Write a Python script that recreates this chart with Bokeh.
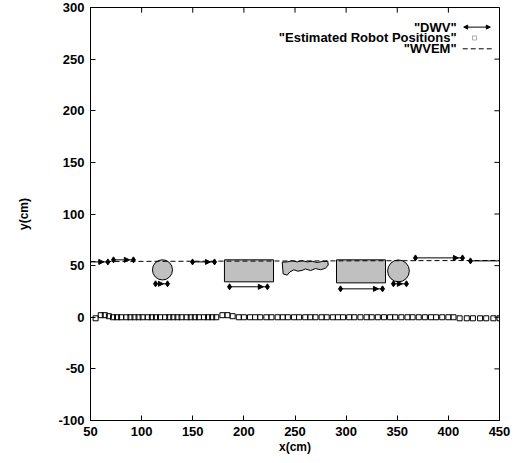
from bokeh.plotting import figure
from bokeh.models import (ColumnDataSource, Range1d, FixedTicker, Arrow,
                          NormalHead, Label, BoxAnnotation)
from bokeh.embed import file_html
from bokeh.resources import INLINE

# ---------------- data ----------------
x_ticks = [50, 100, 150, 200, 250, 300, 350, 400, 450]
y_ticks = [-100, -50, 0, 50, 100, 150, 200, 250, 300]

# DWV vectors (start / end)
dwv_x0 = [42.0, 72.5, 113.6, 149.8, 186.0, 294.5, 346.3, 367.8, 421.6]
dwv_y0 = [53.6, 55.6, 32.4, 53.6, 29.5, 27.5, 32.4, 57.5, 54.6]
dwv_x1 = [67.0, 92.0, 125.3, 171.3, 223.0, 335.6, 359.0, 413.8, 470.0]
dwv_y1 = [53.6, 55.6, 32.4, 53.6, 29.5, 27.5, 32.4, 57.5, 54.6]

# Estimated robot positions
robot_x = [55, 60, 64, 68, 72, 76, 80, 85, 89, 93, 97, 101, 106, 110, 114, 118, 123, 127,
           131, 135, 139, 144, 148, 152, 156, 161, 165, 169, 173,
           179, 184, 189, 195, 200, 206, 211, 216, 222, 227, 233, 238, 243, 249, 254, 260,
           265, 270, 276, 281, 287, 292, 297, 303, 308,
           314, 320, 325, 331, 337, 343, 348, 354, 360, 365, 371, 377, 383, 388, 394, 400, 405,
           411, 418, 424, 431, 437, 444, 450]
robot_y = [-1, 2, 2, 1, 0, 0, 0, 0, 0, 0, 0, 0, 0, 0, 0, 0, 0, 0,
           0, 0, 0, 0, 0, 0, 0, 0, 0, 0, 0,
           2, 2, 1, 0, 0, 0, 0, 0, 0, 0, 0, 0, 0, 0, 0, 0,
           0, 0, 0, 0, 0, 0, 0, 0, 0,
           0, 0, 0, 0, 0, 0, 0, 0, 0, 0, 0, 0, 0, 0, 0, 0, 0,
           -1, -1, -1, -1, -1, -1, -1]

# WVEM line
wvem_x = [50, 450]
wvem_y = [54.0, 55.0]

# Obstacles
circle_x = [120.4, 351.2]
circle_y = [45.9, 44.9]
circle_r = [9.8, 10.6]

rect_left = [181.0, 290.6]
rect_right = [229.0, 338.5]
rect_bottom = [34.3, 33.3]
rect_top = [55.6, 55.6]

blob_x = [237.5, 238.4, 242.4, 244.9, 248.9, 252.8, 257.0, 260.3, 265.2, 270.1, 274.9,
          279.8, 282.5, 282.1, 276.6, 271.7, 266.8, 261.9, 257.0, 252.1, 247.3, 242.4]
blob_y = [53.4, 42.0, 40.8, 43.8, 46.0, 44.6, 45.4, 46.8, 45.2, 47.2, 46.0,
          47.4, 50.6, 54.2, 54.0, 53.0, 54.2, 53.6, 54.8, 53.6, 54.8, 53.6]

# ---------------- figure ----------------
FONT = "Liberation Sans"
GRAY = "#c0c0c0"
X0, X1, Y0, Y1 = 50, 450, -100, 300

p = figure(width=519, height=460, x_range=Range1d(X0, X1), y_range=Range1d(Y0, Y1),
           output_backend="svg", toolbar_location=None,
           min_border_left=90, min_border_right=20, min_border_top=7, min_border_bottom=40)
p.grid.visible = False
p.outline_line_color = "black"
p.outline_line_width = 1
p.background_fill_color = "white"
p.border_fill_color = "white"

for ax, ticks in ((p.below[0], x_ticks), (p.left[0], y_ticks)):
    ax.ticker = FixedTicker(ticks=ticks)
    ax.major_label_overrides = {t: str(t) for t in ticks}
    ax.major_tick_in = 5
    ax.major_tick_out = 0
    ax.minor_tick_line_color = None
    ax.axis_line_color = "black"
    ax.major_tick_line_color = "black"
    ax.major_label_text_font = FONT
    ax.major_label_text_font_style = "bold"
    ax.major_label_text_color = "black"
    ax.major_label_text_font_size = "13px"
    ax.major_label_standoff = 6
    ax.axis_label_text_font = FONT
    ax.axis_label_text_font_style = "bold"
    ax.axis_label_text_font_size = "12px"
    ax.axis_label_text_color = "black"

p.below[0].axis_label = "x(cm)"
p.left[0].axis_label = "y(cm)"
p.below[0].axis_label_standoff = 1
p.left[0].axis_label_standoff = 24

# mirrored inward ticks on top and right borders (from the tick lists)
p.segment(x0=x_ticks, y0=[Y1] * len(x_ticks), x1=x_ticks, y1=[Y1 - 5] * len(x_ticks),
          line_color="black", line_width=1)
p.segment(x0=[X1] * len(y_ticks), y0=y_ticks, x1=[X1 - 5] * len(y_ticks), y1=y_ticks,
          line_color="black", line_width=1)

# obstacles
p.ellipse(x=circle_x, y=circle_y, width=[2 * r for r in circle_r],
          height=[2 * r for r in circle_r], fill_color=GRAY, line_color="black", line_width=1)
p.quad(left=rect_left, right=rect_right, bottom=rect_bottom, top=rect_top,
       fill_color=GRAY, line_color="black", line_width=1)
p.patch(blob_x, blob_y, fill_color=GRAY, line_color="black", line_width=1)

# WVEM dashed line
p.line(wvem_x, wvem_y, line_color="black", line_width=1, line_dash="5 3")

# DWV vectors
dwv = ColumnDataSource(dict(x0=dwv_x0, y0=dwv_y0, x1=dwv_x1, y1=dwv_y1))
p.segment(x0="x0", y0="y0", x1="x1", y1="y1", source=dwv, line_color="black", line_width=1)
p.scatter(x=dwv_x0 + dwv_x1, y=dwv_y0 + dwv_y1, marker="diamond", size=6,
          fill_color="black", line_color="black")
inside = [i for i in range(len(dwv_x1)) if dwv_x1[i] <= X1]
heads = ColumnDataSource(dict(x0=[dwv_x0[i] for i in inside], y0=[dwv_y0[i] for i in inside],
                              x1=[dwv_x1[i] - 4 for i in inside], y1=[dwv_y1[i] for i in inside]))
p.add_layout(Arrow(end=NormalHead(size=5, fill_color="black", line_color="black"),
                   x_start="x0", y_start="y0", x_end="x1", y_end="y1", source=heads,
                   line_alpha=0))

# robot positions
p.scatter(x=robot_x, y=robot_y, marker="square", size=5, fill_alpha=0,
          line_color="black", line_width=1)

# ---------------- key (top right) ----------------
def key_label(text, y):
    p.add_layout(Label(x=408, y=y, text=text, text_align="right", text_baseline="middle",
                       text_font=FONT, text_font_style="bold", text_font_size="13px",
                       text_color="black"))

key_label('"DWV"', 281)
key_label('"Estimated Robot Positions"', 270.5)
key_label('"WVEM"', 260)
p.add_layout(Arrow(x_start=415, y_start=281, x_end=441, y_end=281,
                   start=NormalHead(size=4, fill_color="black", line_color="black"),
                   end=NormalHead(size=4, fill_color="black", line_color="black"),
                   line_color="black", line_width=1))
p.add_layout(BoxAnnotation(left=423.6, right=427.6, bottom=268.5, top=272.5,
                           fill_alpha=0, line_color="black", line_width=1))
p.add_layout(Arrow(x_start=414, y_start=260, x_end=443, y_end=260, start=None, end=None,
                   line_color="black", line_width=1, line_dash="5 3"))

open("out.html", "w").write(file_html(p, INLINE))
